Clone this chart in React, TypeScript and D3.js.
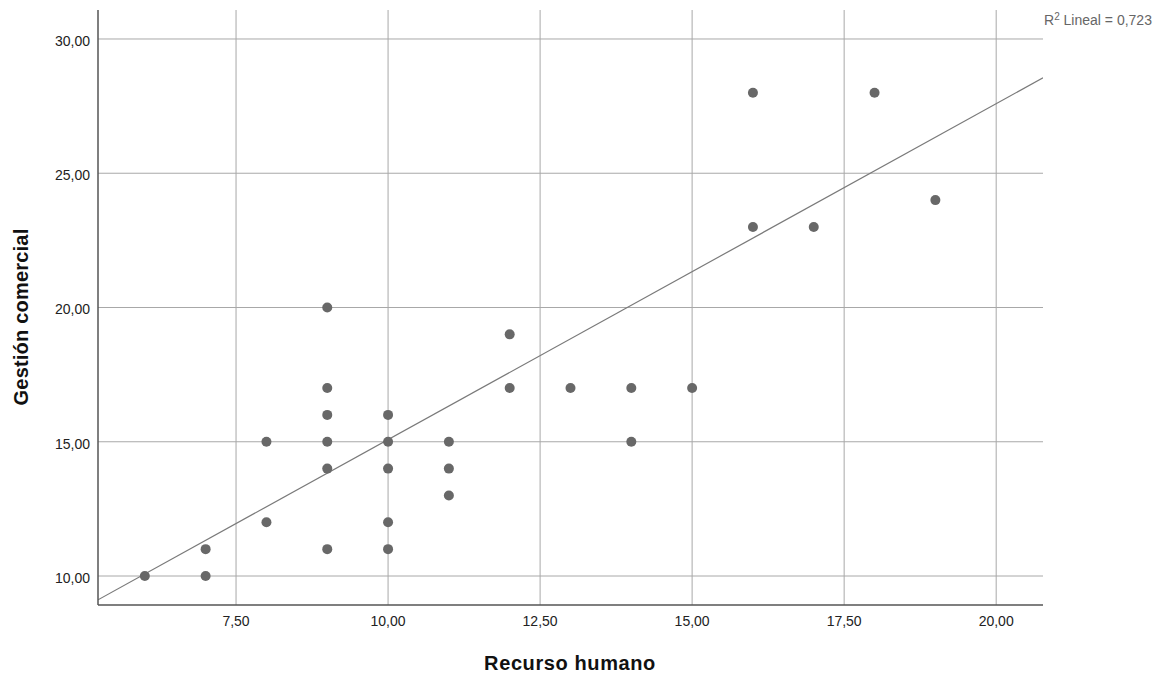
import React from "react";
import * as d3 from "d3";

const recursoHumano = [6, 7, 7, 8, 8, 9, 9, 9, 9, 9, 9, 10, 10, 10, 10, 10, 11, 11, 11, 12, 12, 13, 14, 14, 15, 16, 16, 17, 18, 19];
const gestionComercial = [10, 11, 10, 15, 12, 20, 17, 16, 15, 14, 11, 16, 15, 14, 12, 11, 15, 14, 13, 19, 17, 17, 17, 15, 17, 28, 23, 23, 28, 24];
const xTicks = [7.5, 10, 12.5, 15, 17.5, 20];
const yTicks = [10, 15, 20, 25, 30];
const fitIntercept = 2.57;
const fitSlope = 1.251;
const r2Label = "0,723";

const W = 1169;
const H = 675;
const left = 98, right = 1043, top = 10, bottom = 605;

export default function App() {
  const x = d3.scaleLinear().domain([5.23, 20.77]).range([left, right]);
  const y = d3.scaleLinear().domain([8.92, 31.08]).range([bottom, top]);
  const fmt = (v: number) => v.toFixed(2).replace(".", ",");
  const [x0, x1] = x.domain();
  const line = d3.line<number>().x((d) => x(d)).y((d) => y(fitIntercept + fitSlope * d));
  const pts = recursoHumano.map((v, i) => ({ x: v, y: gestionComercial[i] }));
  return (
    <svg width={W} height={H} style={{ position: "absolute", left: 0, top: 0, background: "#fff" }} fontFamily="'Liberation Sans', Arial, sans-serif">
      <rect x={0} y={0} width={W} height={H} fill="#fff" />
      {xTicks.map((t) => (
        <line key={"gx" + t} x1={x(t)} x2={x(t)} y1={top} y2={bottom} stroke="#a8a8a8" strokeWidth={1} />
      ))}
      {yTicks.map((t) => (
        <line key={"gy" + t} x1={left} x2={right} y1={y(t)} y2={y(t)} stroke="#a8a8a8" strokeWidth={1} />
      ))}
      <defs>
        <clipPath id="plotclip">
          <rect x={left} y={top} width={right - left} height={bottom - top} />
        </clipPath>
      </defs>
      <path d={line([x0, x1]) || ""} fill="none" stroke="#7a7a7a" strokeWidth={1.2} clipPath="url(#plotclip)" />
      {pts.map((p, i) => (
        <circle key={i} cx={x(p.x)} cy={y(p.y)} r={5} fill="#686868" />
      ))}
      <line x1={left} x2={left} y1={top} y2={bottom} stroke="#555" strokeWidth={1.5} />
      <line x1={left} x2={right} y1={bottom} y2={bottom} stroke="#555" strokeWidth={1.5} />
      {yTicks.map((t) => (
        <text key={"ty" + t} x={left - 8} y={y(t) + 2} dy="0.35em" textAnchor="end" fontSize={14} fill="#222">
          {fmt(t)}
        </text>
      ))}
      {xTicks.map((t) => (
        <text key={"tx" + t} x={x(t)} y={621} dy="0.35em" textAnchor="middle" fontSize={14} fill="#222">
          {fmt(t)}
        </text>
      ))}
      <text x={570} y={670} textAnchor="middle" fontSize={20} letterSpacing={0.6} fontWeight="bold" fill="#111">
        Recurso humano
      </text>
      <text transform={`translate(28, 317) rotate(-90)`} textAnchor="middle" fontSize={20} letterSpacing={0.2} fontWeight="bold" fill="#111">
        Gestión comercial
      </text>
      <text x={1044} y={25} fontSize={14} fill="#666">
        R<tspan dy={-5} fontSize={10}>2</tspan>
        <tspan dy={5}> Lineal = {r2Label}</tspan>
      </text>
    </svg>
  );
}
